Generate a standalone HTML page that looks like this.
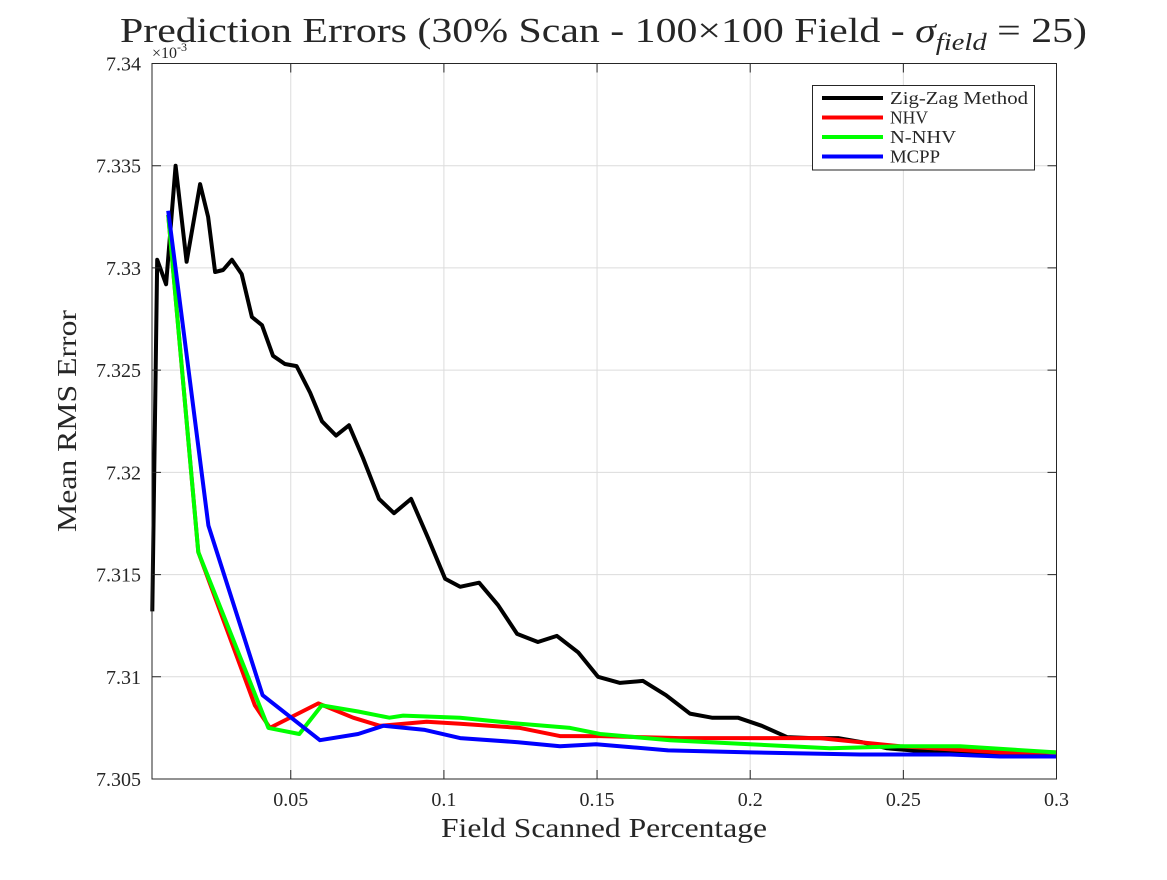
<!DOCTYPE html>
<html><head><meta charset="utf-8">
<style>
body{margin:0;background:#fff;}
svg text{font-family:"Liberation Serif",serif;fill:#262626;}
</style></head>
<body>
<svg id="chart" width="1167" height="875" viewBox="0 0 1167 875" xmlns="http://www.w3.org/2000/svg">
<rect width="1167" height="875" fill="#fff"/>
<g id="grid"></g>
<g id="series"></g>
<rect x="152" y="63.5" width="904.5" height="715.5" fill="none" stroke="#262626" stroke-width="1"/>
<g id="ticks"></g>
<text x="120" y="42" font-size="35" fill="#000" textLength="967" lengthAdjust="spacingAndGlyphs">Prediction Errors (30% Scan - 100×100 Field - <tspan font-style="italic">σ</tspan><tspan font-style="italic" font-size="24" dy="8">field</tspan><tspan dy="-8"> = 25)</tspan></text>
<text x="152" y="58" font-size="16">×10<tspan font-size="12" dy="-7">-3</tspan></text>
<text transform="translate(76,421) rotate(-90)" text-anchor="middle" font-size="27" textLength="222" lengthAdjust="spacingAndGlyphs">Mean RMS Error</text>
<text x="604" y="837" text-anchor="middle" font-size="27" textLength="326" lengthAdjust="spacingAndGlyphs">Field Scanned Percentage</text>
<g>
<rect x="812.5" y="85.5" width="222" height="84.5" fill="#fff" stroke="#262626" stroke-width="1"/>
<g id="legend-items"></g>
</g>
</svg>
<script>
const xTicks=[0.05,0.1,0.15,0.2,0.25,0.3];
const xTickLabels=["0.05","0.1","0.15","0.2","0.25","0.3"];
const yTicks=[7.305,7.31,7.315,7.32,7.325,7.33,7.335,7.34];
const yTickLabels=["7.305","7.31","7.315","7.32","7.325","7.33","7.335","7.34"];
const seriesNames=["Zig-Zag Method","NHV","N-NHV","MCPP"];
const legendWidths=[138,38,66,50];
const zigX=[0.0048,0.0064,0.0093,0.0124,0.0160,0.0204,0.0230,0.0253,0.0279,0.0308,0.0340,0.0373,0.0406,0.0442,0.0481,0.0519,0.0563,0.0602,0.0648,0.0690,0.0736,0.0788,0.0837,0.0893,0.0948,0.1004,0.1053,0.1115,0.1177,0.1239,0.1307,0.1369,0.1438,0.1503,0.1575,0.1650,0.1725,0.1803,0.1875,0.1960,0.2038,0.2120,0.2201,0.2287,0.2365,0.2447,0.2528,0.2610,0.2692,0.2773,0.2855,0.2998];
const zigY=[7.3132,7.3304,7.3292,7.3350,7.3303,7.3341,7.3325,7.3298,7.3299,7.3304,7.3297,7.3276,7.3272,7.3257,7.3253,7.3252,7.3239,7.3225,7.3218,7.3223,7.3207,7.3187,7.3180,7.3187,7.3168,7.3148,7.3144,7.3146,7.3135,7.3121,7.3117,7.3120,7.3112,7.3100,7.3097,7.3098,7.3091,7.3082,7.3080,7.3080,7.3076,7.30705,7.3070,7.3070,7.3068,7.3065,7.3064,7.3063,7.3063,7.3062,7.3062,7.3061];
const nhvX=[0.0100,0.0198,0.0383,0.0432,0.0590,0.0704,0.0791,0.0944,0.1053,0.1248,0.1379,0.1510,0.1771,0.1999,0.2228,0.2489,0.2815,0.2998];
const nhvY=[7.3326,7.3161,7.3086,7.3075,7.3087,7.3080,7.3076,7.3078,7.3077,7.3075,7.3071,7.3071,7.3070,7.3070,7.3070,7.3066,7.3063,7.3063];
const nnhvX=[0.0100,0.0198,0.0427,0.0528,0.0601,0.0720,0.0822,0.0867,0.1053,0.1248,0.1412,0.1510,0.1738,0.1999,0.2260,0.2489,0.2685,0.2998];
const nnhvY=[7.3326,7.3161,7.3075,7.3072,7.3086,7.3083,7.3080,7.3081,7.3080,7.3077,7.3075,7.3072,7.3069,7.3067,7.3065,7.3066,7.3066,7.3063];
const mcppX=[0.0100,0.0231,0.0408,0.0595,0.0720,0.0802,0.0938,0.1053,0.1242,0.1379,0.1497,0.1732,0.1999,0.2358,0.2652,0.2815,0.2998];
const mcppY=[7.3328,7.3174,7.3091,7.3069,7.3072,7.3076,7.3074,7.3070,7.3068,7.3066,7.3067,7.3064,7.3063,7.3062,7.3062,7.3061,7.3061];
const colors=["#000000","#ff0000","#00ff00","#0000ff"];

const NS="http://www.w3.org/2000/svg";
const X0=152,X1=1056.5,Y0=779,Y1=63.5,XMIN=0.0047,XMAX=0.3,YMIN=7.305,YMAX=7.34;
function sx(v){return X0+(v-XMIN)/(XMAX-XMIN)*(X1-X0);}
function sy(v){return Y0-(v-YMIN)/(YMAX-YMIN)*(Y0-Y1);}
function mk(tag,attrs,parent){const e=document.createElementNS(NS,tag);for(const k in attrs)e.setAttribute(k,attrs[k]);parent.appendChild(e);return e;}
const grid=document.getElementById('grid'),ticks=document.getElementById('ticks'),series=document.getElementById('series'),leg=document.getElementById('legend-items');
xTicks.forEach((t,i)=>{
  const x=sx(t);
  const g=mk('line',{x1:x,x2:x,y1:Y1,y2:Y0,stroke:'#dcdcdc','stroke-width':1},grid);
  
  
  const tk=mk('path',{d:`M${x},${Y0}v-9M${x},${Y1}v9`,stroke:'#262626','stroke-width':1},ticks);
  
  
  const lb=mk('text',{x:x,y:806,'text-anchor':'middle','font-size':20},ticks);
  lb.textContent=xTickLabels[i];
  
  
});
yTicks.forEach((t,i)=>{
  const y=sy(t);
  const g=mk('line',{x1:X0,x2:X1,y1:y,y2:y,stroke:'#dcdcdc','stroke-width':1},grid);
  
  
  const tk=mk('path',{d:`M${X0},${y}h9M${X1},${y}h-9`,stroke:'#262626','stroke-width':1},ticks);
  
  
  const lb=mk('text',{x:141,y:y+7,'text-anchor':'end','font-size':20},ticks);
  lb.textContent=yTickLabels[i];
  
  
});
const data=[[zigX,zigY],[nhvX,nhvY],[nnhvX,nnhvY],[mcppX,mcppY]];
[0,1,2,3].forEach(i=>{
  const [xs,ys]=data[i];
  const d=xs.map((v,j)=>(j?'L':'M')+sx(v).toFixed(1)+','+sy(ys[j]).toFixed(1)).join('');
  const p=mk('path',{d:d,fill:'none',stroke:colors[i],'stroke-width':4,'stroke-linejoin':'round'},series);
  
  
  const ly=98+i*19.5;
  const ll=mk('line',{x1:822,x2:883,y1:ly,y2:ly,stroke:colors[i],'stroke-width':4},leg);
  
  
  const lt=mk('text',{x:890,y:ly+6,'font-size':18,fill:'#000',textLength:legendWidths[i],lengthAdjust:'spacingAndGlyphs'},leg);
  lt.textContent=seriesNames[i];
  
  
});
</script>
</body></html>
